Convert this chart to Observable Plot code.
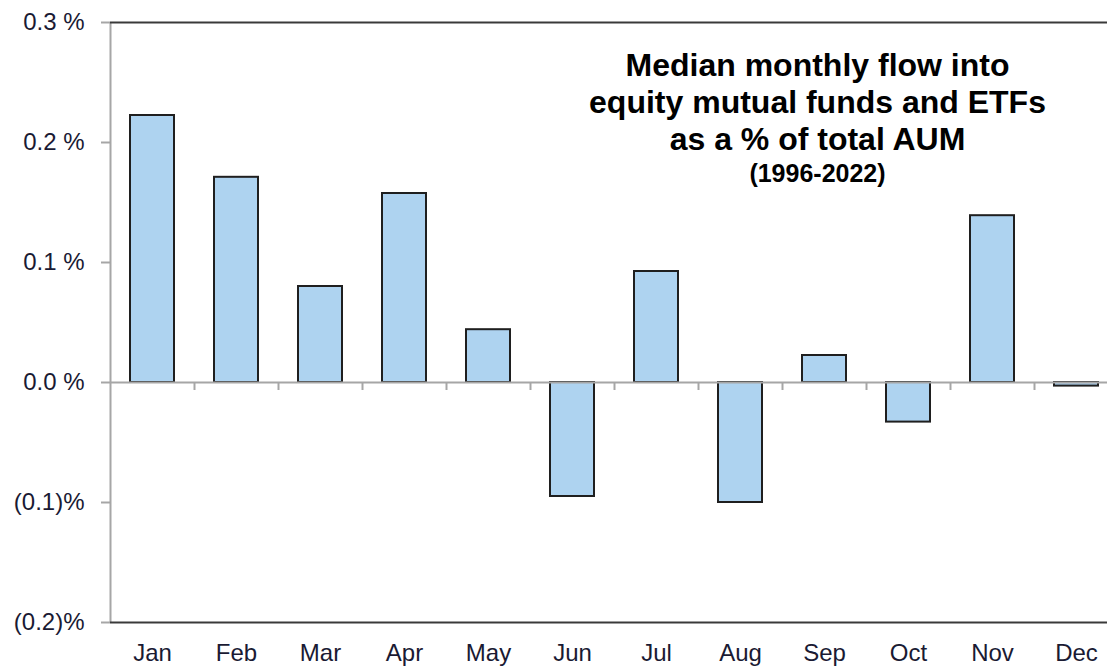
<!DOCTYPE html>
<html>
<head>
<meta charset="utf-8">
<script src="https://cdn.jsdelivr.net/npm/d3@7"></script>
<script src="https://cdn.jsdelivr.net/npm/@observablehq/plot@0.6"></script>
<style>
  html, body { margin: 0; padding: 0; background: #fff; overflow: hidden; }
  #chart svg { display: block; }
</style>
</head>
<body>
<div id="chart"></div>
<script>
const months = ["Jan","Feb","Mar","Apr","May","Jun","Jul","Aug","Sep","Oct","Nov","Dec"];
const flows = [0.2225, 0.171, 0.080, 0.1575, 0.044, -0.095, 0.0925, -0.100, 0.0225, -0.033, 0.139, -0.003];
const yTicks = [-0.2, -0.1, 0.0, 0.1, 0.2, 0.3];
const titleLines = ["Median monthly flow into", "equity mutual funds and ETFs", "as a % of total AUM"];
const subtitle = "(1996-2022)";

const data = months.map((m, i) => ({month: m, value: flows[i]}));
const fmt = d => d < 0 ? `(${Math.abs(d).toFixed(1)})%` : `${d.toFixed(1)} %`;
const font = "'Liberation Sans', Arial, sans-serif";

const chart = Plot.plot({
  width: 1107,
  height: 668,
  marginLeft: 110,
  marginRight: -11,
  marginTop: 22,
  marginBottom: 46,
  style: {fontFamily: font, background: "#fff", overflow: "visible"},
  x: {domain: months, paddingInner: 0.476, paddingOuter: 0.238, axis: null},
  y: {domain: [yTicks[0], yTicks[yTicks.length - 1]], axis: null},
  marks: [
    Plot.barY(data, {x: "month", y: "value", fill: "#aed3f0", stroke: "#1f1f1f", strokeWidth: 2}),
    Plot.ruleY([0], {stroke: "#a6a6a6", strokeWidth: 2}),
    Plot.ruleX(months.slice(1), {x: d => d, dx: -42, y1: 0, y2: 0, insetBottom: -8, stroke: "#a6a6a6", strokeWidth: 2}),
    Plot.ruleX([months[0]], {x: d => d, dx: -42, stroke: "#a6a6a6", strokeWidth: 2}),
    Plot.ruleY([yTicks[yTicks.length - 1], yTicks[0]], {stroke: "#3a3a3a", strokeWidth: 2}),
    Plot.axisY({ticks: yTicks, tickFormat: fmt, tickSize: 9, tickPadding: 17, stroke: "#a6a6a6", strokeWidth: 2,
      fontSize: 24, fill: "#1a1a33", label: null}),
    Plot.axisX({tickSize: 0, tickPadding: 21, fontSize: 24, fill: "#1a1a33", label: null}),
    Plot.text([titleLines[0]], {text: d => d, frameAnchor: "top", dx: 203, dy: 43, lineAnchor: "middle",
      fontSize: 32, fontWeight: "bold", fill: "#000"}),
    Plot.text([titleLines[1]], {text: d => d, frameAnchor: "top", dx: 203, dy: 80, lineAnchor: "middle",
      fontSize: 32, fontWeight: "bold", fill: "#000"}),
    Plot.text([titleLines[2]], {text: d => d, frameAnchor: "top", dx: 203, dy: 117, lineAnchor: "middle",
      fontSize: 32, fontWeight: "bold", fill: "#000"}),
    Plot.text([subtitle], {text: d => d, frameAnchor: "top", dx: 203, dy: 151, lineAnchor: "middle",
      fontSize: 25, fontWeight: "bold", fill: "#000"})
  ]
});
document.getElementById("chart").appendChild(chart);
</script>
</body>
</html>
